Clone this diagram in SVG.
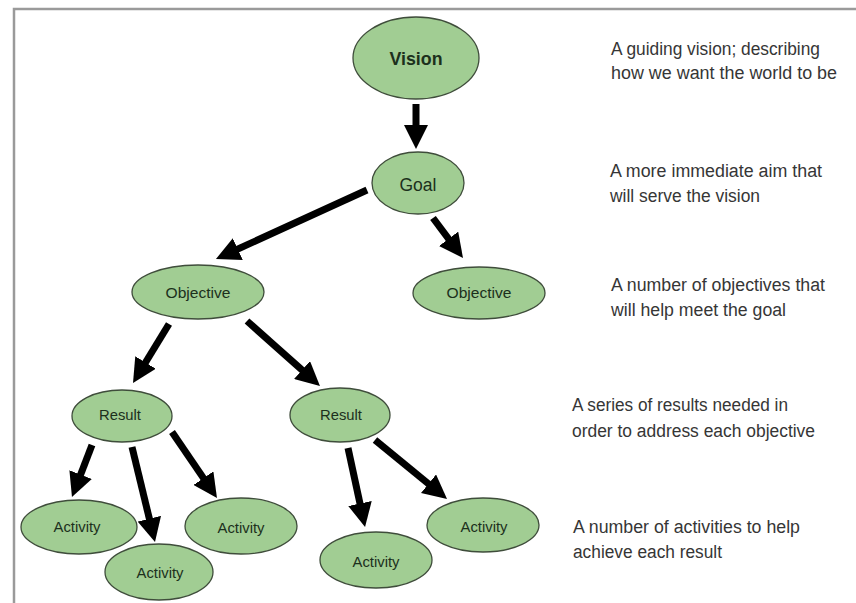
<svg xmlns="http://www.w3.org/2000/svg" width="856" height="603" viewBox="0 0 856 603">
<style>
.node ellipse{fill:#a1cd93;stroke:#3f4d3b;stroke-width:1.3}
.node text{font-family:"Liberation Sans",Arial,sans-serif;fill:#1c301c;text-anchor:middle}
.conn line{stroke:#000;stroke-width:7;marker-end:url(#ah)}
.desc{font-family:"Liberation Sans",Arial,sans-serif;font-size:18px;fill:#363636}
</style>
<defs>
<marker id="ah" markerUnits="userSpaceOnUse" viewBox="0 0 24 24" markerWidth="24" markerHeight="24" refX="10" refY="12" orient="auto">
<path d="M0,0 L24,12 L0,24 z" fill="#000"/>
</marker>
</defs>
<rect width="856" height="603" fill="#fff"/>
<path d="M14,603 V9 H856" fill="none" stroke="#9a9a9a" stroke-width="2.5"/>

<g class="conn">
<line x1="416" y1="104" x2="416" y2="135"/>
<line x1="367" y1="190" x2="228.7" y2="253.2"/>
<line x1="433" y1="218" x2="454.6" y2="246.8"/>
<line x1="169" y1="324" x2="140.3" y2="371"/>
<line x1="247" y1="321" x2="309.5" y2="376.7"/>
<line x1="92" y1="445" x2="77" y2="483.9"/>
<line x1="132" y1="447" x2="151.7" y2="528.4"/>
<line x1="172" y1="432" x2="209.1" y2="486.4"/>
<line x1="348" y1="448" x2="362.1" y2="513.3"/>
<line x1="375" y1="440" x2="436.2" y2="490.1"/>
</g>

<g id="vision" class="node"><ellipse cx="416" cy="58" rx="63" ry="41"/><text x="416" y="65" font-size="19" font-weight="bold" textLength="53" lengthAdjust="spacingAndGlyphs">Vision</text></g>
<g id="goal" class="node"><ellipse cx="418" cy="183" rx="46" ry="31"/><text x="418" y="191" font-size="18" textLength="37" lengthAdjust="spacingAndGlyphs">Goal</text></g>
<g id="objective-1" class="node"><ellipse cx="198" cy="292" rx="66" ry="27"/><text x="198" y="298" font-size="15" textLength="65" lengthAdjust="spacingAndGlyphs">Objective</text></g>
<g id="objective-2" class="node"><ellipse cx="479" cy="293" rx="66" ry="26"/><text x="479" y="298" font-size="15" textLength="65" lengthAdjust="spacingAndGlyphs">Objective</text></g>
<g id="result-1" class="node"><ellipse cx="122" cy="416" rx="50" ry="26"/><text x="120" y="420" font-size="15" textLength="42" lengthAdjust="spacingAndGlyphs">Result</text></g>
<g id="result-2" class="node"><ellipse cx="340" cy="415" rx="50" ry="27"/><text x="341" y="420" font-size="15" textLength="42" lengthAdjust="spacingAndGlyphs">Result</text></g>
<g id="activity-1" class="node"><ellipse cx="79" cy="527" rx="58" ry="27"/><text x="77" y="532" font-size="14" textLength="47" lengthAdjust="spacingAndGlyphs">Activity</text></g>
<g id="activity-2" class="node"><ellipse cx="159" cy="572" rx="54" ry="28"/><text x="160" y="578" font-size="14" textLength="47" lengthAdjust="spacingAndGlyphs">Activity</text></g>
<g id="activity-3" class="node"><ellipse cx="241" cy="526" rx="56" ry="28"/><text x="241" y="533" font-size="14" textLength="47" lengthAdjust="spacingAndGlyphs">Activity</text></g>
<g id="activity-4" class="node"><ellipse cx="376" cy="560" rx="56" ry="28"/><text x="376" y="567" font-size="14" textLength="47" lengthAdjust="spacingAndGlyphs">Activity</text></g>
<g id="activity-5" class="node"><ellipse cx="483" cy="525" rx="56" ry="27"/><text x="484" y="532" font-size="14" textLength="47" lengthAdjust="spacingAndGlyphs">Activity</text></g>

<g id="descriptions">
<text class="desc" x="611" y="55" textLength="209" lengthAdjust="spacingAndGlyphs">A guiding vision; describing</text>
<text class="desc" x="611" y="79" textLength="226" lengthAdjust="spacingAndGlyphs">how we want the world to be</text>
<text class="desc" x="610" y="177" textLength="212" lengthAdjust="spacingAndGlyphs">A more immediate aim that</text>
<text class="desc" x="610" y="202" textLength="150" lengthAdjust="spacingAndGlyphs">will serve the vision</text>
<text class="desc" x="611" y="291" textLength="214" lengthAdjust="spacingAndGlyphs">A number of objectives that</text>
<text class="desc" x="611" y="316" textLength="175" lengthAdjust="spacingAndGlyphs">will help meet the goal</text>
<text class="desc" x="572" y="411" textLength="216" lengthAdjust="spacingAndGlyphs">A series of results needed in</text>
<text class="desc" x="572" y="437" textLength="243" lengthAdjust="spacingAndGlyphs">order to address each objective</text>
<text class="desc" x="573" y="533" textLength="227" lengthAdjust="spacingAndGlyphs">A number of activities to help</text>
<text class="desc" x="573" y="558" textLength="149" lengthAdjust="spacingAndGlyphs">achieve each result</text>
</g>
</svg>
